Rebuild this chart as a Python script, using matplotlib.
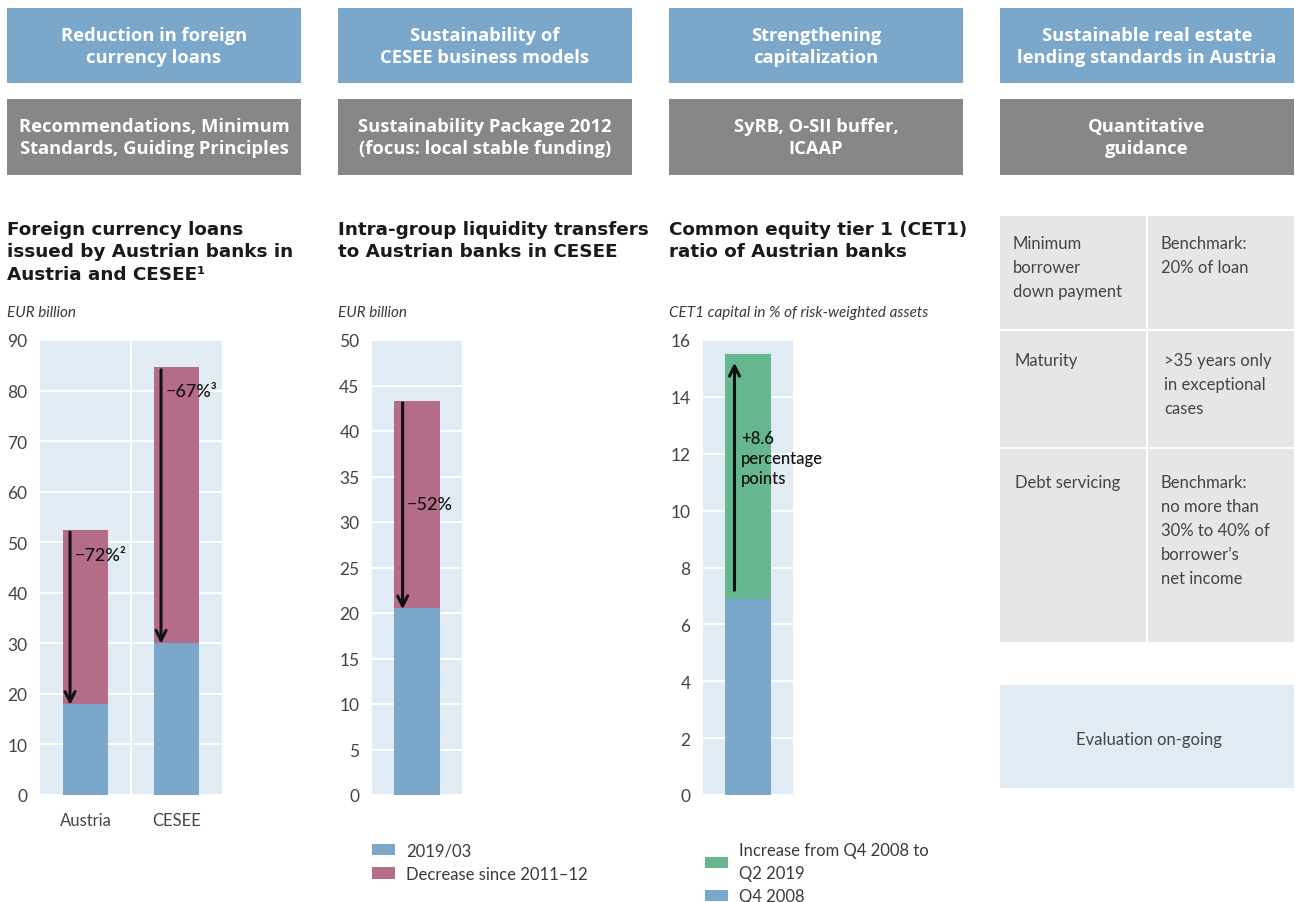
import matplotlib
matplotlib.use("Agg")
import matplotlib.pyplot as plt
from matplotlib.patches import Rectangle

plt.rcParams['font.family'] = ['Lato', 'DejaVu Sans']

# ---------------- data ----------------
fx_categories = ["Austria", "CESEE"]
fx_current = [18.0, 30.1]          # 2019/03
fx_decrease = [34.5, 54.5]         # decrease since 2011-12
fx_labels = ["\u221272%\u00b2", "\u221267%\u00b3"]

ig_current = [20.5]
ig_decrease = [22.8]
ig_label = "\u221252%"

cet_base = [6.9]                   # Q4 2008
cet_increase = [8.6]               # increase Q4 2008 -> Q2 2019
cet_label = "+8.6\npercentage\npoints"

header_top = ["Reduction in foreign\ncurrency loans",
              "Sustainability of\nCESEE business models",
              "Strengthening\ncapitalization",
              "Sustainable real estate\nlending standards in Austria"]
header_bottom = ["Recommendations, Minimum\nStandards, Guiding Principles",
                 "Sustainability Package 2012\n(focus: local stable funding)",
                 "SyRB, O-SII buffer,\nICAAP",
                 "Quantitative\nguidance"]
titles = ["Foreign currency loans\nissued by Austrian banks in\nAustria and CESEE\u00b9",
          "Intra-group liquidity transfers\nto Austrian banks in CESEE",
          "Common equity tier 1 (CET1)\nratio of Austrian banks"]
subtitles = ["EUR billion", "EUR billion", "CET1 capital in % of risk-weighted assets"]

table_left = ["Minimum\nborrower\ndown payment", "Maturity", "Debt servicing"]
table_right = ["Benchmark:\n20% of loan", ">35 years only\nin exceptional\ncases",
               "Benchmark:\nno more than\n30% to 40% of\nborrower\u2019s\nnet income"]
evaluation_text = "Evaluation on-going"

# ---------------- style ----------------
BLUE = "#7ba7cb"
PINK = "#b46c88"
GREEN = "#66b68f"
HEAD_BLUE = "#7ba7cb"
HEAD_GRAY = "#878787"
BG = "#e1ebf4"
TABLE_GRAY = "#e6e6e6"
TXT = "#3a3a3a"
HEAD_FONT = ['Open Sans', 'DejaVu Sans']
TITLE_FONT = ['DejaVu Sans']

W, H = 1295, 903
fig = plt.figure(figsize=(W / 100, H / 100), dpi=100)


def fx(x):
    return x / W


def fy(y):
    return 1 - y / H


def frect(l, t, r, b, color, z=0):
    fig.patches.append(Rectangle((fx(l), fy(b)), (r - l) / W, (b - t) / H,
                                 transform=fig.transFigure, facecolor=color,
                                 edgecolor='none', zorder=z))


def add_ax(l, t, r, b):
    return fig.add_axes([fx(l), fy(b), (r - l) / W, (b - t) / H])


cols = [(7, 301), (338, 632), (669, 963), (1000, 1294)]

# headers
for (l, r), t1, t2 in zip(cols, header_top, header_bottom):
    frect(l, 9, r, 84, HEAD_BLUE)
    frect(l, 100, r, 176, HEAD_GRAY)
    fig.text(fx((l + r) / 2), fy(47), t1, ha='center', va='center', color='white',
             fontsize=13.2, fontweight='bold', linespacing=1.3, family=HEAD_FONT)
    fig.text(fx((l + r) / 2), fy(138), t2, ha='center', va='center', color='white',
             fontsize=13.2, fontweight='bold', linespacing=1.3, family=HEAD_FONT)

# titles & subtitles
for (l, r), t, s in zip(cols[:3], titles, subtitles):
    fig.text(fx(l), fy(221), t, ha='left', va='top', color='#1a1a1a', fontsize=13.2,
             fontweight='bold', linespacing=1.32, family=TITLE_FONT)
    fig.text(fx(l), fy(313), s, ha='left', va='center', color=TXT, fontsize=11,
             style='italic')


def style_axes(ax, ymax, step):
    ax.set_facecolor(BG)
    for sp in ax.spines.values():
        sp.set_visible(False)
    ax.set_ylim(0, ymax)
    ax.set_yticks(range(0, ymax + 1, step))
    ax.yaxis.grid(True, color='white', lw=1.3)
    ax.set_axisbelow(True)
    ax.tick_params(axis='y', length=0, pad=9, labelsize=12.5, labelcolor='#444444')
    ax.tick_params(axis='x', length=0, pad=12, labelsize=12, labelcolor='#444444')


ARROW = dict(arrowstyle='->', color='#111111', lw=2.2, mutation_scale=18,
             shrinkA=0, shrinkB=0)
LEG = dict(frameon=False, fontsize=12, handlelength=1.4, handleheight=0.65,
           handletextpad=0.65, labelspacing=0.45, borderaxespad=0, borderpad=0,
           labelcolor=TXT)

# ---------- chart 1 ----------
ax1 = add_ax(40, 341, 222, 796)
style_axes(ax1, 90, 10)
xs = [0, 1]
ax1.bar(xs, fx_current, width=0.5, color=BLUE, zorder=2)
ax1.bar(xs, fx_decrease, width=0.5, bottom=fx_current, color=PINK, zorder=2)
ax1.axvline(0.5, color='white', lw=1.5, zorder=1)
ax1.set_xlim(-0.5, 1.5)
ax1.set_xticks(xs)
ax1.set_xticklabels(fx_categories)
for i in range(2):
    top = fx_current[i] + fx_decrease[i]
    ax1.annotate('', xy=(i - 0.17, fx_current[i] - 0.2), xytext=(i - 0.17, top - 0.5),
                 arrowprops=ARROW, zorder=3)
ax1.text(-0.12, 47.5, fx_labels[0], fontsize=13, color='#111111', va='center',
         fontweight='medium', zorder=4)
ax1.text(0.88, 80.0, fx_labels[1], fontsize=13, color='#111111', va='center',
         fontweight='medium', zorder=4)

# ---------- chart 2 ----------
ax2 = add_ax(372, 341, 462, 796)
style_axes(ax2, 50, 5)
ax2.bar([0], ig_current, width=0.51, color=BLUE, zorder=2, label="2019/03")
ax2.bar([0], ig_decrease, width=0.51, bottom=ig_current, color=PINK, zorder=2,
        label="Decrease since 2011\u201312")
ax2.set_xlim(-0.5, 0.5)
ax2.set_xticks([])
ig_top = ig_current[0] + ig_decrease[0]
ax2.annotate('', xy=(-0.16, ig_current[0] - 0.1), xytext=(-0.16, ig_top - 0.2),
             arrowprops=ARROW, zorder=3)
ax2.text(-0.11, 32.0, ig_label, fontsize=13, color='#111111', va='center',
         fontweight='medium', zorder=4)
ax2.legend(loc='upper left', bbox_to_anchor=(0.0, -0.104), **LEG)

# ---------- chart 3 ----------
ax3 = add_ax(703, 341, 793, 796)
style_axes(ax3, 16, 2)
b_base = ax3.bar([0], cet_base, width=0.51, color=BLUE, zorder=2)
b_inc = ax3.bar([0], cet_increase, width=0.51, bottom=cet_base, color=GREEN, zorder=2)
ax3.set_xlim(-0.5, 0.5)
ax3.set_xticks([])
cet_top = cet_base[0] + cet_increase[0]
ax3.annotate('', xy=(-0.15, cet_top - 0.3), xytext=(-0.15, cet_base[0] + 0.3),
             arrowprops=ARROW, zorder=3)
ax3.text(-0.08, 12.85, cet_label, fontsize=12, color='#111111', va='top',
         linespacing=1.32, fontweight='medium', zorder=4)
leg3 = ax3.legend([b_inc, b_base], ["Increase from Q4 2008 to\nQ2 2019", "Q4 2008"],
                  loc='upper left', bbox_to_anchor=(0.022, -0.104), **LEG)
for t in leg3.get_texts():
    t.set_linespacing(1.5)

# ---------- column 4: table ----------
frect(1000, 217, 1294, 643, TABLE_GRAY)
frect(1000, 330, 1294, 332, 'white', z=1)
frect(1000, 448, 1294, 450, 'white', z=1)
frect(1146, 217, 1148, 643, 'white', z=1)
row_tops = [236, 353, 475]
left_x = [1013, 1015, 1015]
right_x = [1161, 1164, 1161]
for yt, lx, rx, lt, rt in zip(row_tops, left_x, right_x, table_left, table_right):
    fig.text(fx(lx), fy(yt), lt, ha='left', va='top', fontsize=12, color='#444444',
             linespacing=1.62)
    fig.text(fx(rx), fy(yt), rt, ha='left', va='top', fontsize=12, color='#444444',
             linespacing=1.62)

frect(1000, 686, 1294, 789, BG)
fig.text(fx(1149), fy(740), evaluation_text, ha='center', va='center', fontsize=12,
         color='#444444')

fig.savefig("out.png", dpi=100)
